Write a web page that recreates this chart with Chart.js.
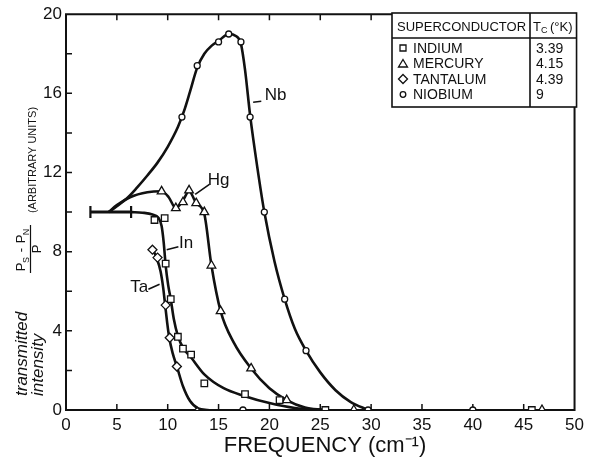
<!DOCTYPE html>
<html>
<head>
<meta charset="utf-8">
<script src="https://cdn.jsdelivr.net/npm/chart.js@4.4.1/dist/chart.umd.min.js"></script>
<style>
  html, body { margin: 0; padding: 0; background: #fff; }
  canvas { display: block; }
</style>
</head>
<body>
<canvas id="chart" width="589" height="463"></canvas>
<script>
// axis ranges / ticks
const xTicks = [0, 5, 10, 15, 20, 25, 30, 35, 40, 45, 50];
const yTicks = [0, 4, 8, 12, 16, 20];

// measured points (open markers)
const inX = [8.7, 9.7, 9.8, 10.3, 11.0, 11.5, 12.3, 13.6, 17.6, 21.0, 25.5, 45.8];
const inY = [9.6, 9.7, 7.4, 5.6, 3.7, 3.1, 2.8, 1.35, 0.8, 0.5, 0, 0];
const hgX = [9.4, 10.8, 11.5, 12.1, 12.8, 13.6, 14.3, 15.2, 18.2, 21.7, 28.3, 46.8];
const hgY = [11.05, 10.2, 10.5, 11.1, 10.45, 10.0, 7.3, 5.0, 2.1, 0.5, 0, 0];
const taX = [8.5, 9.0, 9.8, 10.2, 10.9, 12.9];
const taY = [8.1, 7.7, 5.3, 3.65, 2.2, -0.1];
const nbX = [11.4, 12.9, 15.0, 16.0, 17.2, 18.1, 19.5, 21.5, 23.6, 17.4, 29.7, 40.0];
const nbY = [14.8, 17.4, 18.6, 19.0, 18.6, 14.8, 10.0, 5.6, 3.0, 0, 0, 0];

// hand drawn curves through the points
const nbCurveX = [4.2, 5.0, 6.0, 7.0, 8.0, 9.0, 10.0, 11.0, 11.6, 12.2, 12.9, 13.6, 14.3, 15.0, 16.0, 16.7, 17.2, 17.6, 18.1, 18.8, 19.5, 20.5, 21.5, 22.5, 23.6, 25.0, 26.5, 28.0, 29.7];
const nbCurveY = [10, 10.3, 10.7, 11.25, 11.85, 12.5, 13.3, 14.3, 15.1, 16.1, 17.3, 18.0, 18.4, 18.65, 19.0, 18.9, 18.5, 17.2, 14.9, 12.3, 10.0, 7.5, 5.6, 4.1, 3.0, 1.9, 1.0, 0.4, 0];
const hgCurveX = [4.2, 5.0, 6.3, 8.0, 9.4, 10.1, 10.8, 11.5, 12.1, 12.8, 13.6, 14.3, 15.2, 16.5, 18.2, 20.0, 21.7, 23.5, 25.3];
const hgCurveY = [10, 10.35, 10.75, 11.0, 11.05, 10.75, 10.2, 10.6, 11.05, 10.45, 9.9, 7.3, 5.0, 3.4, 2.1, 1.1, 0.5, 0.12, 0];
const inCurveX = [6.4, 7.5, 8.5, 9.1, 9.4, 9.6, 9.8, 10.05, 10.3, 10.6, 11.0, 11.5, 12.3, 13.6, 15.5, 17.6, 20.0, 22.5, 25.5];
const inCurveY = [10, 9.97, 9.88, 9.7, 9.3, 8.5, 7.3, 6.3, 5.6, 4.6, 3.75, 3.15, 2.65, 1.8, 1.1, 0.7, 0.35, 0.1, 0];
const taCurveX = [8.5, 8.9, 9.3, 9.55, 9.75, 9.95, 10.15, 10.5, 10.9, 11.5, 12.2, 13.0, 14.0];
const taCurveY = [8.15, 7.7, 7.0, 6.2, 5.3, 4.4, 3.65, 2.85, 2.2, 1.2, 0.45, 0.08, 0];

// starting bar
const barX = [2.4, 6.4];
const barY = [10, 10];

// legend table
const metals = ['INDIUM', 'MERCURY', 'TANTALUM', 'NIOBIUM'];
const tcValues = ['3.39', '4.15', '4.39', '9'];

// curve labels and their leader lines (data units)
const labelText = ['Nb', 'Hg', 'In', 'Ta'];
const labelX = [20.6, 15.0, 11.8, 7.2];
const labelY = [15.9, 11.6, 8.4, 6.2];
const leaders = [[19.2, 15.6, 18.4, 15.55], [14.1, 11.4, 12.7, 10.9], [11.05, 8.25, 9.9, 8.1], [8.1, 6.1, 9.2, 6.35]];

const ink = '#111';
const font = '"Liberation Sans", Arial, sans-serif';

function pts(xs, ys) {
  return xs.map((x, i) => ({ x: x, y: ys[i] }));
}

function markers(label, xs, ys, style, r) {
  return {
    label: label,
    data: pts(xs, ys),
    showLine: false,
    pointStyle: style,
    pointRadius: r,
    pointBorderWidth: 1.3,
    pointBorderColor: ink,
    pointBackgroundColor: '#fff',
    order: 0
  };
}

function curve(xs, ys) {
  return {
    data: pts(xs, ys),
    showLine: true,
    borderColor: ink,
    borderWidth: 2.6,
    pointRadius: 0,
    cubicInterpolationMode: 'monotone',
    order: 1
  };
}

const legendBox = { left: 392, top: 13, bottom: 107, split: 530, head: 38 };

function vtext(ctx, str, cx, cy, align) {
  ctx.save();
  ctx.translate(cx, cy);
  ctx.rotate(-Math.PI / 2);
  ctx.textAlign = align || 'center';
  ctx.textBaseline = 'middle';
  ctx.fillText(str, 0, 0);
  ctx.restore();
}

function drawSymbol(ctx, kind, x, y) {
  ctx.beginPath();
  if (kind === 0) {
    ctx.rect(x - 3, y - 3, 6, 6);
  } else if (kind === 1) {
    ctx.moveTo(x, y - 4); ctx.lineTo(x + 4.5, y + 3.5); ctx.lineTo(x - 4.5, y + 3.5); ctx.closePath();
  } else if (kind === 2) {
    ctx.moveTo(x, y - 4.5); ctx.lineTo(x + 4.5, y); ctx.lineTo(x, y + 4.5); ctx.lineTo(x - 4.5, y); ctx.closePath();
  } else {
    ctx.arc(x, y, 2.8, 0, Math.PI * 2);
  }
  ctx.stroke();
}

const framePlugin = {
  id: 'frame',
  beforeDatasetsDraw(chart) {
    const { ctx, chartArea: a, scales } = chart;
    const xs = scales.x, ys = scales.y;
    ctx.save();
    ctx.strokeStyle = ink;
    ctx.lineWidth = 2;
    ctx.beginPath();
    ctx.moveTo(legendBox.left, a.top);
    ctx.lineTo(a.left, a.top);
    ctx.lineTo(a.left, a.bottom);
    ctx.lineTo(a.right, a.bottom);
    ctx.lineTo(a.right, legendBox.bottom);
    ctx.stroke();
    // inward ticks
    ctx.lineWidth = 1.5;
    ctx.beginPath();
    for (let v = 2; v < 20; v += 2) {
      const py = ys.getPixelForValue(v);
      ctx.moveTo(a.left, py); ctx.lineTo(a.left + 6, py);
    }
    xTicks.slice(1, -1).forEach(v => {
      const px = xs.getPixelForValue(v);
      ctx.moveTo(px, a.bottom); ctx.lineTo(px, a.bottom - 6);
      if (px < legendBox.left) { ctx.moveTo(px, a.top); ctx.lineTo(px, a.top + 6); }
    });
    ctx.stroke();
    // starting bar caps
    ctx.lineWidth = 2.2;
    ctx.beginPath();
    barX.forEach((v, i) => {
      const px = xs.getPixelForValue(v), py = ys.getPixelForValue(barY[i]);
      ctx.moveTo(px, py - 6); ctx.lineTo(px, py + 6);
    });
    ctx.stroke();
    ctx.restore();
  },
  afterDraw(chart) {
    const { ctx, chartArea: a, scales } = chart;
    const xs = scales.x, ys = scales.y;
    const right = a.right + 2;
    ctx.save();
    ctx.fillStyle = ink;
    ctx.strokeStyle = ink;

    // legend table
    ctx.fillStyle = '#fff';
    ctx.fillRect(legendBox.left, legendBox.top, right - legendBox.left, legendBox.bottom - legendBox.top);
    ctx.fillStyle = ink;
    ctx.lineWidth = 1.6;
    ctx.strokeRect(legendBox.left, legendBox.top, right - legendBox.left, legendBox.bottom - legendBox.top);
    ctx.beginPath();
    ctx.moveTo(legendBox.split, legendBox.top); ctx.lineTo(legendBox.split, legendBox.bottom);
    ctx.moveTo(legendBox.left, legendBox.head); ctx.lineTo(right, legendBox.head);
    ctx.stroke();
    ctx.textBaseline = 'middle';
    ctx.textAlign = 'left';
    ctx.font = '13px ' + font;
    ctx.fillText('SUPERCONDUCTOR', legendBox.left + 5, 27);
    ctx.fillText('T', legendBox.split + 3, 27);
    ctx.font = '9px ' + font;
    ctx.fillText('C', legendBox.split + 11, 31);
    ctx.font = '13px ' + font;
    ctx.fillText('(°K)', legendBox.split + 20, 27);
    ctx.lineWidth = 1.3;
    metals.forEach((m, i) => {
      const ry = 48 + i * 15.5;
      drawSymbol(ctx, i, legendBox.left + 11, ry);
      ctx.font = '14px ' + font;
      ctx.fillText(m, legendBox.left + 21, ry + 1);
      ctx.fillText(tcValues[i], legendBox.split + 6, ry + 1);
    });

    // curve labels
    ctx.font = '17px ' + font;
    ctx.textAlign = 'center';
    labelText.forEach((t, i) => {
      ctx.fillText(t, xs.getPixelForValue(labelX[i]), ys.getPixelForValue(labelY[i]));
    });
    ctx.lineWidth = 1.6;
    ctx.beginPath();
    leaders.forEach(l => {
      ctx.moveTo(xs.getPixelForValue(l[0]), ys.getPixelForValue(l[1]));
      ctx.lineTo(xs.getPixelForValue(l[2]), ys.getPixelForValue(l[3]));
    });
    ctx.stroke();

    // x title
    ctx.font = '22px ' + font;
    ctx.textAlign = 'center';
    ctx.fillText('FREQUENCY (cm\u207B\u00B9)', 325, 446);

    // y title
    ctx.font = 'italic 17px ' + font;
    vtext(ctx, 'transmitted', 22, 396, 'left');
    vtext(ctx, 'intensity', 38, 396, 'left');
    ctx.font = '11px ' + font;
    vtext(ctx, '(ARBITRARY UNITS)', 33, 160);
    // fraction (Ps - Pn) / P
    ctx.font = '13px ' + font;
    vtext(ctx, 'P', 21, 267);
    ctx.font = '9px ' + font;
    vtext(ctx, 'S', 27, 260);
    ctx.font = '13px ' + font;
    vtext(ctx, '-', 21, 250);
    vtext(ctx, 'P', 21, 239);
    ctx.font = '9px ' + font;
    vtext(ctx, 'N', 27, 232);
    ctx.font = '13px ' + font;
    vtext(ctx, 'P', 37, 249);
    ctx.lineWidth = 1.2;
    ctx.beginPath();
    ctx.moveTo(30.5, 273); ctx.lineTo(30.5, 225);
    ctx.stroke();
    ctx.restore();
  }
};

new Chart(document.getElementById('chart'), {
  type: 'scatter',
  data: {
    datasets: [
      markers('Indium', inX, inY, 'rect', 4.6),
      markers('Mercury', hgX, hgY, 'triangle', 5),
      markers('Tantalum', taX, taY, 'rectRot', 4.5),
      markers('Niobium', nbX, nbY, 'circle', 3),
      curve(nbCurveX, nbCurveY),
      curve(hgCurveX, hgCurveY),
      curve(inCurveX, inCurveY),
      curve(taCurveX, taCurveY),
      { data: pts(barX, barY), showLine: true, borderColor: ink, borderWidth: 3, pointRadius: 0, order: 1 }
    ]
  },
  options: {
    responsive: false,
    animation: false,
    devicePixelRatio: 1,
    layout: { padding: { left: 0, right: 11, top: 13, bottom: 0 } },
    plugins: { legend: { display: false }, tooltip: { enabled: false } },
    scales: {
      x: {
        type: 'linear', min: 0, max: 50,
        afterBuildTicks: s => { s.ticks = xTicks.map(v => ({ value: v })); },
        afterFit: s => { s.height = 53; },
        grid: { display: false, drawTicks: false },
        border: { display: false },
        ticks: { color: ink, font: { family: font, size: 17 }, padding: 5, maxRotation: 0 }
      },
      y: {
        type: 'linear', min: 0, max: 20,
        afterBuildTicks: s => { s.ticks = yTicks.map(v => ({ value: v })); },
        afterFit: s => { s.width = 66; },
        grid: { display: false, drawTicks: false },
        border: { display: false },
        ticks: { color: ink, font: { family: font, size: 17 }, padding: 4 }
      }
    }
  },
  plugins: [framePlugin]
});
</script>
</body>
</html>
